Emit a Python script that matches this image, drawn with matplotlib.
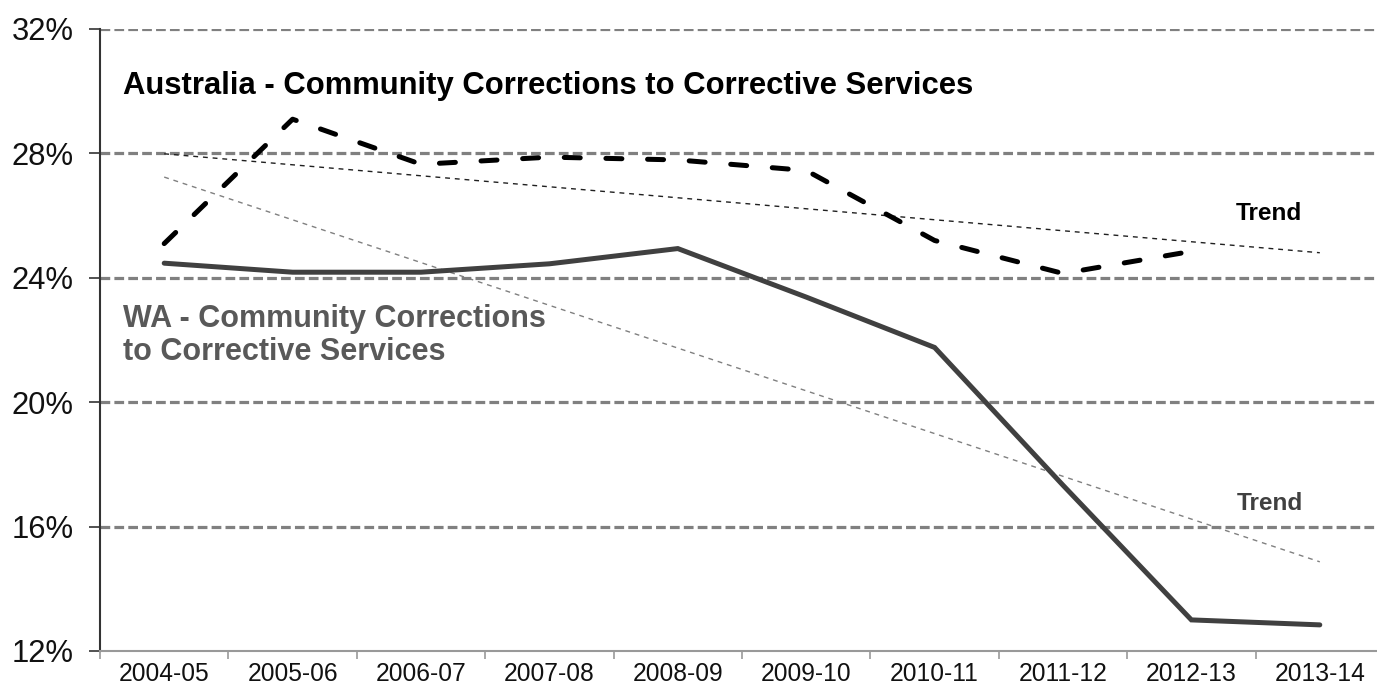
import numpy as np
import matplotlib
matplotlib.use("Agg")
import matplotlib.pyplot as plt

plt.rcParams['font.family'] = ['Liberation Sans', 'DejaVu Sans']
plt.rcParams['lines.scale_dashes'] = False

years = ["2004-05", "2005-06", "2006-07", "2007-08", "2008-09",
         "2009-10", "2010-11", "2011-12", "2012-13", "2013-14"]
# share of corrective-services population on community orders (%)
wa_share = [24.47, 24.18, 24.18, 24.45, 24.94, 23.38, 21.76, 17.33, 13.00, 12.84]
aus_share = [25.10, 29.10, 27.65, 27.88, 27.79, 27.45, 25.20, 24.14, 24.85]
y_ticks = [12, 16, 20, 24, 28, 32]

fig = plt.figure(figsize=(13.77, 6.89), dpi=100)
ax = fig.add_axes([100 / 1377, 38 / 689, 1284 / 1377, 622 / 689])

x_all = np.arange(len(years))
x_aus = np.arange(len(aus_share))

# horizontal gridlines
for v in y_ticks[1:]:
    ax.axhline(v, color="#808080", lw=2.3, linestyle=(0, (7, 3)), zorder=1)

# linear trends, projected across all years
aus_fit = np.polyfit(x_aus, aus_share, 1)
wa_fit = np.polyfit(x_all, wa_share, 1)
ax.plot(x_all, np.polyval(aus_fit, x_all), color="#202020", lw=1.0,
        linestyle=(0, (3.5, 3.5)), zorder=2)
ax.plot(x_all, np.polyval(wa_fit, x_all), color="#808080", lw=1.0,
        linestyle=(0, (3.5, 3.5)), zorder=2)

# series
ax.plot(x_all, wa_share, color="#404040", lw=3.6, solid_capstyle="round",
        solid_joinstyle="miter", zorder=3)
ax.plot(x_aus, aus_share, color="black", lw=3.6, linestyle=(0, (11.5, 18.5)),
        dash_capstyle="round", zorder=4)

ax.set_xlim(-0.5, len(years) - 0.5)
ax.set_ylim(12, 32)
ax.set_yticks(y_ticks)
ax.set_yticklabels([f"{v}%" for v in y_ticks], fontsize=22.3, color="#111111")
ax.set_xticks(x_all)
ax.set_xticklabels(years, fontsize=17.7, color="#111111")
ax.set_xticks(np.arange(-0.5, len(years), 1), minor=True)
ax.tick_params(axis="x", which="major", length=0, pad=8)
ax.tick_params(axis="x", which="minor", length=6, color="#999999", width=1.2)
ax.tick_params(axis="y", length=8, width=1.2, color="#333333", pad=11)

for side in ("top", "right"):
    ax.spines[side].set_visible(False)
ax.spines["left"].set_color("#333333")
ax.spines["left"].set_linewidth(1.5)
ax.spines["bottom"].set_color("#999999")
ax.spines["bottom"].set_linewidth(1.5)

ax.text(-0.32, 30.18, "Australia - Community Corrections to Corrective Services",
        fontsize=22.3, fontweight="bold", color="black", va="center", ha="left")
ax.text(-0.32, 22.15, "WA - Community Corrections\nto Corrective Services",
        fontsize=22, fontweight="bold", color="#595959", va="center", ha="left",
        linespacing=1.15)
ax.text(8.60, 26.07, "Trend", fontsize=17.6, fontweight="bold", color="black",
        va="center", ha="center")
ax.text(8.61, 16.75, "Trend", fontsize=17.6, fontweight="bold", color="#404040",
        va="center", ha="center")

fig.savefig("out.png", dpi=100)
